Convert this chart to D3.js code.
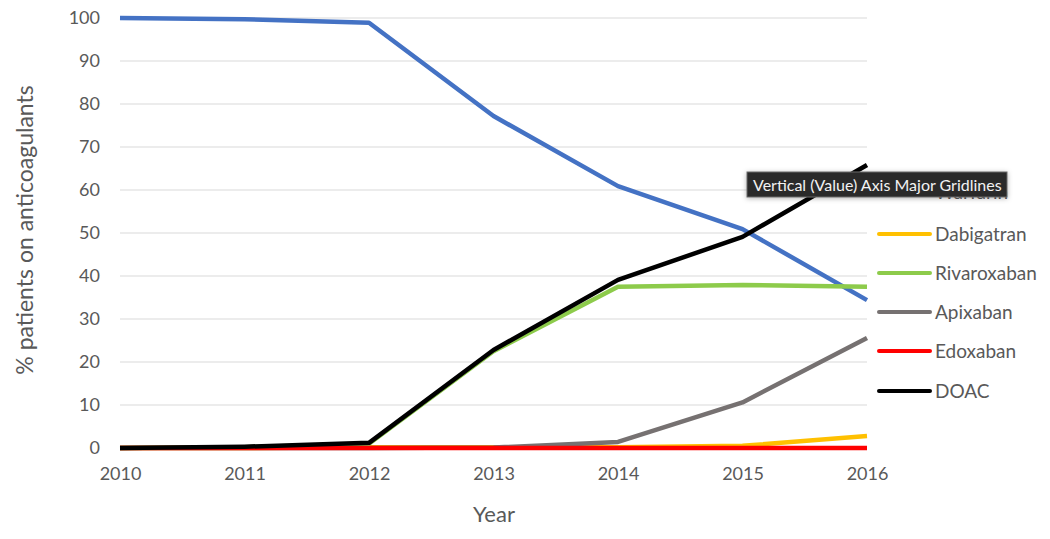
<!DOCTYPE html>
<html><head><meta charset="utf-8">
<script src="https://cdn.jsdelivr.net/npm/d3@7/dist/d3.min.js"></script>
<style>body{margin:0;background:#fff}svg{display:block}</style>
</head><body>
<svg id="c" width="1050" height="539"></svg>
<script>
const years = [2010, 2011, 2012, 2013, 2014, 2015, 2016];
const yTicks = [0, 10, 20, 30, 40, 50, 60, 70, 80, 90, 100];
const seriesNames = ["Warfarin", "Dabigatran", "Rivaroxaban", "Apixaban", "Edoxaban", "DOAC"];
const warfarin    = [100, 99.7, 98.9, 77.2, 60.9, 50.9, 34.4];
const dabigatran  = [0, 0, 0.2, 0.2, 0.2, 0.5, 2.8];
const rivaroxaban = [0, 0.2, 1.0, 22.5, 37.5, 37.9, 37.5];
const apixaban    = [0, 0, 0, 0.1, 1.4, 10.6, 25.6];
const edoxaban    = [0, 0, 0, 0, 0, 0, 0];
const doac        = [0, 0.3, 1.2, 22.8, 39.1, 49.1, 65.8];
const seriesValues = [warfarin, dabigatran, rivaroxaban, apixaban, edoxaban, doac];
const colors = ["#4472C4", "#FFC000", "#8DCB4B", "#767171", "#FF0000", "#000000"];

const svg = d3.select("#c");
const x = d3.scaleLinear().domain([2010, 2016]).range([120, 867]);
const y = d3.scaleLinear().domain([0, 100]).range([448, 18]);
const txt = "#595959";
const font = "Lato, 'Open Sans', sans-serif";

// gridlines
svg.append("g").selectAll("line").data(yTicks).join("line")
  .attr("x1", 120).attr("x2", 867)
  .attr("y1", d => y(d)).attr("y2", d => y(d))
  .attr("stroke", "#d9d9d9").attr("stroke-width", 1);

// y axis labels
const yAxis = d3.axisLeft(y).tickValues(yTicks).tickSize(0).tickPadding(0);
const gy = svg.append("g").attr("transform", "translate(100,0)").call(yAxis);
gy.select(".domain").remove();
gy.selectAll("text").attr("fill", txt).style("font-family", font).style("font-size", "18px");

// x axis labels
const xAxis = d3.axisBottom(x).tickValues(years).tickFormat(d3.format("d")).tickSize(0).tickPadding(0);
const gx = svg.append("g").attr("transform", "translate(0,467)").call(xAxis);
gx.select(".domain").remove();
gx.selectAll("text").attr("fill", txt).style("font-family", font).style("font-size", "18px");

// axis titles
svg.append("text").attr("x", 494).attr("y", 522).attr("text-anchor", "middle")
  .attr("fill", txt).style("font-family", font).style("font-size", "22px").text("Year");
svg.append("text").attr("transform", "translate(33,230) rotate(-90)").attr("text-anchor", "middle")
  .attr("fill", txt).style("font-family", font).style("font-size", "23px").text("% patients on anticoagulants");

// lines
const line = d3.line().x((d, i) => x(years[i])).y(d => y(d));
svg.append("g").selectAll("path").data(seriesValues).join("path")
  .attr("d", d => line(d)).attr("fill", "none")
  .attr("stroke", (d, i) => colors[i]).attr("stroke-width", 4.5)
  .attr("stroke-linejoin", "round");

// legend
const legY = [192, 234, 273, 312, 351, 391];
const leg = svg.append("g").selectAll("g").data(seriesNames).join("g")
  .attr("transform", (d, i) => `translate(879,${legY[i]})`);
leg.append("line").attr("x1", 0).attr("x2", 51).attr("y1", 0).attr("y2", 0)
  .attr("stroke", (d, i) => colors[i]).attr("stroke-width", 4).attr("stroke-linecap", "round");
leg.append("text").attr("x", 56).attr("y", 0).attr("dy", "0.38em")
  .attr("fill", txt).style("font-family", font).style("font-size", "19px").text(d => d);

// tooltip
const defs = svg.append("defs");
const f = defs.append("filter").attr("id", "sh").attr("x", "-10%").attr("y", "-50%").attr("width", "120%").attr("height", "200%");
f.append("feDropShadow").attr("dx", 0).attr("dy", 1).attr("stdDeviation", 2.5).attr("flood-color", "#000").attr("flood-opacity", 0.3);
const tip = svg.append("g");
tip.append("rect").attr("x", 747).attr("y", 172).attr("width", 260).attr("height", 25)
  .attr("fill", "#2b2b2b").attr("stroke", "#6a6a6a").attr("stroke-width", 1).attr("filter", "url(#sh)");
tip.append("text").attr("x", 753).attr("y", 185).attr("dy", "0.35em")
  .attr("fill", "#f2f2f2").style("font-family", font).style("font-size", "16px")
  .text("Vertical (Value) Axis Major Gridlines");
</script>
</body></html>
